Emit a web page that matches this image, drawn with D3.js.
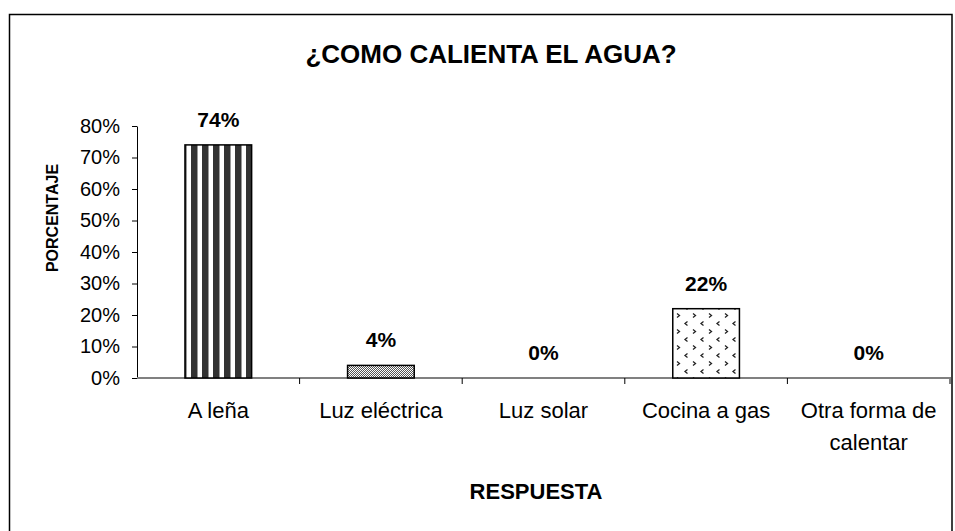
<!DOCTYPE html>
<html>
<head>
<meta charset="utf-8">
<script src="https://cdn.jsdelivr.net/npm/d3@7"></script>
<style>
  body { margin: 0; background: #fff; }
  svg { display: block; font-family: "Liberation Sans", Arial, sans-serif; }
</style>
</head>
<body>
<svg id="chart" width="955" height="531"></svg>
<script>
// data
var categories = ["A leña", "Luz eléctrica", "Luz solar", "Cocina a gas", "Otra forma de calentar"];
var values = [74, 4, 0, 22, 0];
var fills = ["url(#stripes)", "url(#fine)", "none", "url(#marks)", "none"];
var yTicks = [0, 10, 20, 30, 40, 50, 60, 70, 80];

var svg = d3.select("#chart");
var margin = {top: 126, left: 137, right: 5, bottom: 153};
var width = 950 - margin.left, height = 378 - margin.top;

// outer frame
svg.append("rect")
  .attr("x", 9.5).attr("y", 14.5)
  .attr("width", 942.5).attr("height", 540)
  .attr("fill", "#fff").attr("stroke", "#000").attr("stroke-width", 1.5);

// patterns for the bars
var defs = svg.append("defs");
var p1 = defs.append("pattern").attr("id", "stripes")
  .attr("patternUnits", "userSpaceOnUse").attr("width", 11).attr("height", 10)
  .attr("x", 186);
p1.append("rect").attr("width", 11).attr("height", 10).attr("fill", "#fff");
p1.append("rect").attr("width", 6.5).attr("height", 10).attr("fill", "#333");

var p2 = defs.append("pattern").attr("id", "fine")
  .attr("patternUnits", "userSpaceOnUse").attr("width", 2).attr("height", 2);
p2.append("rect").attr("width", 2).attr("height", 2).attr("fill", "#fff");
p2.append("rect").attr("width", 1).attr("height", 1).attr("fill", "#555");
p2.append("rect").attr("x", 1).attr("y", 1).attr("width", 1).attr("height", 1).attr("fill", "#555");

var p3 = defs.append("pattern").attr("id", "marks")
  .attr("patternUnits", "userSpaceOnUse").attr("width", 16).attr("height", 16)
  .attr("x", 673).attr("y", 2);
p3.append("rect").attr("width", 16).attr("height", 16).attr("fill", "#fff");
p3.append("path").attr("d", "M5.5,1.5 L3,3.5 L5.5,5.5").attr("fill", "none").attr("stroke", "#222").attr("stroke-width", 1.3);
p3.append("path").attr("d", "M11,9.5 L13.5,11.5 L11,13.5").attr("fill", "none").attr("stroke", "#222").attr("stroke-width", 1.3);

var g = svg.append("g").attr("transform", "translate(" + margin.left + "," + margin.top + ")");

var x = d3.scaleBand().domain(categories).range([0, width]).padding(0);
var y = d3.scaleLinear().domain([0, 80]).range([height, 0]);

// y axis
var yAxis = g.append("g")
  .call(d3.axisLeft(y).tickValues(yTicks).tickSize(5).tickSizeOuter(0).tickFormat(function(d){ return d + "%"; }));
yAxis.select(".domain").attr("stroke", "#000");
yAxis.selectAll(".tick line").attr("stroke", "#000");
yAxis.selectAll(".tick text").attr("font-size", 20).attr("fill", "#000").attr("x", -17);

// x axis line and ticks at category boundaries
var xg = g.append("g").attr("transform", "translate(0," + height + ")");
xg.append("line").attr("x1", 0).attr("x2", width).attr("stroke", "#808080").attr("stroke-width", 2);
categories.forEach(function(c, i) {
  if (i === 0) return;
  xg.append("line").attr("x1", x(c)).attr("x2", x(c)).attr("y1", 0).attr("y2", 6).attr("stroke", "#000");
});
xg.append("line").attr("x1", width).attr("x2", width).attr("y1", -1).attr("y2", 6).attr("stroke", "#808080").attr("stroke-width", 2);

// bars
var bw = x.bandwidth() * 0.41;
g.selectAll(".bar").data(values).enter()
  .filter(function(d) { return d > 0; })
  .append("rect")
  .attr("x", function(d, i) { var idx = values.indexOf(d); return x(categories[idx]) + (x.bandwidth() - bw) / 2; })
  .attr("y", function(d) { return y(d); })
  .attr("width", bw)
  .attr("height", function(d) { return height - y(d); })
  .attr("fill", function(d) { return fills[values.indexOf(d)]; })
  .attr("stroke", "#000").attr("stroke-width", 1.5);

// value labels
g.selectAll(".val").data(values).enter().append("text")
  .attr("x", function(d, i) { return x(categories[i]) + x.bandwidth() / 2; })
  .attr("y", function(d) { return y(d) - 18; })
  .attr("text-anchor", "middle")
  .attr("font-size", 21).attr("font-weight", "bold")
  .text(function(d) { return d + "%"; });

// category labels (wrap the long one)
categories.forEach(function(c, i) {
  var lines = c === "Otra forma de calentar" ? ["Otra forma de", "calentar"] : [c];
  var t = g.append("text")
    .attr("x", x(c) + x.bandwidth() / 2)
    .attr("y", height + 40)
    .attr("text-anchor", "middle")
    .attr("font-size", 22);
  lines.forEach(function(l, j) {
    t.append("tspan").attr("x", x(c) + x.bandwidth() / 2).attr("dy", j === 0 ? 0 : 32).text(l);
  });
});

// titles
svg.append("text").attr("x", 491).attr("y", 63).attr("text-anchor", "middle")
  .attr("font-size", 26).attr("font-weight", "bold").text("¿COMO CALIENTA EL AGUA?");
svg.append("text").attr("x", 536).attr("y", 499).attr("text-anchor", "middle")
  .attr("font-size", 22).attr("font-weight", "bold").text("RESPUESTA");
svg.append("text").attr("transform", "translate(58,218) rotate(-90)").attr("text-anchor", "middle")
  .attr("font-size", 16).attr("font-weight", "bold").text("PORCENTAJE");
</script>
</body>
</html>
